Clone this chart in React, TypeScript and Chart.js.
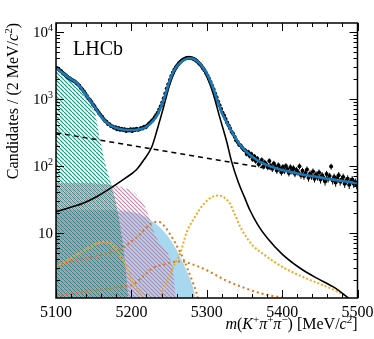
import React, { useEffect, useRef } from "react";
import { Chart, registerables } from "chart.js";

Chart.register(...registerables);

// ---------- data (2 MeV bins) ----------
const BIN_START = 5101;
const BIN_WIDTH = 2;
const DATA_COUNTS = [
  2870, 2790, 2650, 2560, 2430, 2310, 2250, 2130, 2060, 1990, 1920, 1850, 1800, 1720, 1640,
  1560, 1450, 1370, 1280, 1190, 1100, 1010, 960, 890, 820, 770, 700, 660, 610, 570,
  540, 500, 470, 455, 420, 415, 390, 385, 370, 375, 350, 365, 345, 355, 340, 350, 330, 345, 335, 350,
  330, 350, 340, 355, 345, 350, 365, 360, 380, 375, 400, 420, 440, 465, 490,
  530, 570, 620, 690, 770, 880, 1020, 1200, 1420, 1650, 1900, 2180, 2450, 2700, 2950,
  3150, 3380, 3550, 3720, 3850, 3950, 4050, 4080, 4100, 4060, 3980, 3900, 3780, 3620, 3450, 3280, 3080, 2850, 2650, 2420,
  2200, 1980, 1780, 1560, 1380, 1200, 1050, 910, 800, 700, 620, 560, 500, 440, 400,
  360, 320, 300, 270, 240, 225, 205, 200, 185, 175, 168, 150, 160, 140, 150,
  125, 138, 118, 128, 105, 115, 122, 98, 112, 104, 95, 118, 100, 90, 108, 96, 85, 102, 92, 80,
  96, 84, 99, 88, 78, 95, 83, 92, 76, 86, 80, 98, 72, 84, 70, 78, 88, 66, 76, 70, 82, 64, 74, 68, 79,
  62, 72, 66, 58, 75, 64, 70, 97, 60, 68, 56, 65, 72, 58, 62, 68, 54, 60, 64, 52, 58, 62, 54, 57, 52,
];

// ---------- fit components ----------
const TOTAL_X = [5100, 5110, 5120, 5128, 5136, 5145, 5155, 5163, 5172, 5181, 5190, 5198, 5207, 5216, 5222, 5229, 5235, 5240, 5245, 5250, 5255, 5260, 5265, 5270, 5277, 5284, 5290, 5295, 5300, 5305, 5310, 5315, 5320, 5326, 5335, 5344, 5350, 5357, 5365, 5372, 5380, 5397, 5415, 5432, 5450, 5468, 5485, 5500];
const TOTAL_Y = [2900, 2350, 1960, 1700, 1300, 950, 650, 490, 400, 362, 345, 340, 345, 362, 395, 470, 590, 790, 1150, 1750, 2450, 3000, 3450, 3800, 4020, 3850, 3400, 2900, 2380, 1800, 1300, 880, 620, 450, 300, 205, 172, 146, 125, 112, 102, 88, 79, 72, 67, 62, 58, 55];

const SIGNAL_X = [5100, 5120, 5136, 5155, 5172, 5190, 5207, 5216, 5227, 5235, 5243, 5251, 5258, 5265, 5272, 5278, 5285, 5290, 5296, 5303, 5309, 5317, 5326, 5333, 5342, 5350, 5357, 5368, 5380, 5400, 5424, 5446, 5468, 5486, 5495];
const SIGNAL_Y = [20.6, 24, 27.5, 35, 46, 63, 88, 120, 190, 370, 770, 1650, 2600, 3400, 3950, 4150, 3950, 3450, 2700, 1800, 1150, 540, 240, 115, 56, 34, 22, 13, 8.4, 4.8, 2.95, 2.1, 1.55, 1.1, 0.9];

const COMB_X = [5100, 5500];
const COMB_Y = [310, 54];

const PARTRECO_X = [5100, 5110, 5120, 5130, 5140, 5148, 5152, 5156, 5160, 5165, 5170, 5175, 5180, 5185, 5190, 5195, 5198];
const PARTRECO_Y = [2700, 2250, 1850, 1380, 1000, 730, 600, 330, 200, 110, 70, 45, 26, 13, 5.2, 1.4, 0.6];

const PINK_X = [5100, 5130, 5160, 5178, 5192, 5203, 5212, 5220, 5226, 5231, 5240, 5250, 5255, 5258, 5261];
const PINK_Y = [55, 55, 54, 51, 46, 40, 31, 22, 14, 9.5, 6.5, 4.5, 2.8, 1.3, 0.5];

const SKY_X = [5100, 5150, 5185, 5200, 5211, 5220, 5229, 5238, 5247, 5254, 5260, 5266, 5271, 5276, 5280, 5284, 5287];
const SKY_Y = [21.7, 21.7, 21.4, 20.5, 19, 17, 14.5, 12, 9.3, 7.2, 5.5, 4.1, 3.1, 2.3, 1.76, 1.17, 0.6];

const GOLD1_X = [5100, 5110, 5120, 5130, 5140, 5150, 5158, 5165, 5172, 5180, 5186, 5192, 5201, 5206, 5211, 5215, 5218];
const GOLD1_Y = [3.2, 3.6, 4.2, 4.9, 5.7, 6.5, 7.1, 7.3, 6.9, 5.6, 4.5, 3.4, 1.9, 1.55, 1.35, 1.05, 0.8];

const ORANGE1_X = [5100, 5125, 5150, 5170, 5185, 5200, 5211, 5220, 5228, 5236, 5244, 5250, 5256, 5262, 5268, 5275, 5282, 5287, 5290];
const ORANGE1_Y = [3.3, 3.8, 4.4, 5.0, 5.6, 7.4, 9.3, 12, 14, 14.6, 12.5, 10, 7.8, 5.8, 4.3, 2.8, 1.75, 1.2, 0.8];

const GOLD2_X = [5234, 5240, 5250, 5258, 5265, 5273, 5284, 5295, 5305, 5315, 5324, 5331, 5337, 5344, 5352, 5360, 5375, 5400, 5425, 5450, 5470, 5486, 5492];
const GOLD2_Y = [0.8, 1.2, 2.2, 3.5, 5.0, 9.9, 17, 26, 33, 36, 33, 27, 19, 12.5, 8.8, 6.6, 4.8, 3.1, 2.25, 1.72, 1.38, 1.08, 0.9];

const ORANGE2_X = [5100, 5125, 5150, 5170, 5185, 5203, 5215, 5228, 5245, 5260, 5267, 5280, 5300, 5325, 5350, 5370, 5385, 5401, 5410];
const ORANGE2_Y = [1.11, 1.25, 1.36, 1.48, 1.55, 1.7, 2.2, 2.95, 3.4, 3.7, 3.72, 3.4, 2.75, 1.95, 1.5, 1.26, 1.15, 1.05, 0.9];

// ---------- axes ----------
const X_MIN = 5100;
const X_MAX = 5500;
const Y_MIN = 1.06;
const Y_MAX = 13500;
const X_MAJOR_TICKS = [5100, 5200, 5300, 5400, 5500];
const X_MINOR_STEP = 20;
const Y_DECADES = [1, 10, 100, 1000, 10000];
const Y_LABEL_VALUES = [10, 100, 1000, 10000];
const Y_LABEL_EXPONENTS = ["", "2", "3", "4"];

type Part = { t: string; it?: boolean; sup?: boolean };
const X_TITLE: Part[] = [
  { t: "m", it: true }, { t: "(" }, { t: "K", it: true }, { t: "+", sup: true },
  { t: "π", it: true }, { t: "+", sup: true }, { t: "π", it: true }, { t: "−", sup: true },
  { t: ") [MeV/" }, { t: "c", it: true }, { t: "2", sup: true }, { t: "]" },
];
const Y_TITLE: Part[] = [
  { t: "Candidates / (2 MeV/" }, { t: "c", it: true }, { t: "2", sup: true }, { t: ")" },
];
const EXPERIMENT_LABEL = "LHCb";

const FONT = '"Liberation Serif", "Times New Roman", serif';

function pts(xs: number[], ys: number[]) {
  return xs.map((x, i) => ({ x, y: ys[i] }));
}

function hatch(color: string, p: number, lw: number, off = 0) {
  const c = document.createElement("canvas");
  c.width = p;
  c.height = p;
  const g = c.getContext("2d")!;
  g.strokeStyle = color;
  g.lineWidth = lw;
  g.beginPath();
  for (let k = -2; k <= 2; k++) {
    g.moveTo(k * p + off, 0);
    g.lineTo(k * p + off + p, p);
  }
  g.stroke();
  return g.createPattern(c, "repeat")!;
}

function partFont(p: Part, size: number) {
  const s = p.sup ? Math.round(size * 0.68) : size;
  return `${p.it ? "italic " : ""}${s}px ${FONT}`;
}

function drawRich(ctx: CanvasRenderingContext2D, parts: Part[], x: number, y: number, size: number, align: "left" | "right" | "center") {
  let w = 0;
  for (const p of parts) {
    ctx.font = partFont(p, size);
    w += ctx.measureText(p.t).width;
  }
  let cx = align === "right" ? x - w : align === "center" ? x - w / 2 : x;
  ctx.textAlign = "left";
  ctx.textBaseline = "alphabetic";
  for (const p of parts) {
    ctx.font = partFont(p, size);
    ctx.fillText(p.t, cx, p.sup ? y - size * 0.4 : y);
    cx += ctx.measureText(p.t).width;
  }
}

const decorPlugin = {
  id: "decor",
  beforeDatasetDraw(chart: any, args: any) {
    if (chart.data.datasets[args.index].label !== "Data") return;
    const ctx: CanvasRenderingContext2D = chart.ctx;
    const xs = chart.scales.x;
    const ys = chart.scales.y;
    const a = chart.chartArea;
    ctx.save();
    ctx.beginPath();
    ctx.rect(a.left, a.top, a.right - a.left, a.bottom - a.top);
    ctx.clip();
    ctx.strokeStyle = "#000";
    ctx.lineWidth = 1;
    ctx.beginPath();
    DATA_COUNTS.forEach((v, i) => {
      const x = xs.getPixelForValue(BIN_START + i * BIN_WIDTH);
      const e = Math.sqrt(v);
      ctx.moveTo(x, ys.getPixelForValue(v + e));
      ctx.lineTo(x, ys.getPixelForValue(Math.max(v - e, 0.3)));
    });
    ctx.stroke();
    ctx.restore();
  },
  afterDraw(chart: any) {
    const ctx: CanvasRenderingContext2D = chart.ctx;
    const xs = chart.scales.x;
    const ys = chart.scales.y;
    const a = chart.chartArea;
    ctx.save();
    ctx.strokeStyle = "#000";
    ctx.fillStyle = "#000";
    // frame
    ctx.lineWidth = 1.5;
    ctx.strokeRect(a.left, a.top, a.right - a.left, a.bottom - a.top);
    // x ticks
    ctx.lineWidth = 1;
    ctx.beginPath();
    for (let v = X_MIN; v <= X_MAX; v += X_MINOR_STEP) {
      const x = Math.round(xs.getPixelForValue(v)) + 0.5;
      const len = X_MAJOR_TICKS.includes(v) ? 8 : 4;
      ctx.moveTo(x, a.bottom);
      ctx.lineTo(x, a.bottom - len);
      ctx.moveTo(x, a.top);
      ctx.lineTo(x, a.top + len);
    }
    // y ticks
    for (const d of Y_DECADES) {
      for (let m = 1; m <= 9; m++) {
        const v = d * m;
        if (v < Y_MIN || v > Y_MAX) continue;
        const y = Math.round(ys.getPixelForValue(v)) + 0.5;
        const len = m === 1 ? 8 : 4;
        ctx.moveTo(a.left, y);
        ctx.lineTo(a.left + len, y);
        ctx.moveTo(a.right, y);
        ctx.lineTo(a.right - len, y);
      }
    }
    ctx.stroke();
    // x labels
    ctx.font = `16px ${FONT}`;
    ctx.textAlign = "center";
    ctx.textBaseline = "alphabetic";
    for (const v of X_MAJOR_TICKS) {
      ctx.fillText(String(v), xs.getPixelForValue(v), a.bottom + 19);
    }
    // y labels
    Y_LABEL_VALUES.forEach((v, i) => {
      const y = ys.getPixelForValue(v);
      const exp = Y_LABEL_EXPONENTS[i];
      const parts: Part[] = exp ? [{ t: "10" }, { t: exp, sup: true }] : [{ t: "10" }];
      drawRich(ctx, parts, a.left - 3, y + 5, 15, "right");
    });
    // x title
    drawRich(ctx, X_TITLE, a.right, 329, 16, "right");
    // y title
    ctx.save();
    ctx.translate(18, a.top);
    ctx.rotate(-Math.PI / 2);
    drawRich(ctx, Y_TITLE, 0, 0, 16, "right");
    ctx.restore();
    // LHCb
    ctx.font = `20px ${FONT}`;
    ctx.textAlign = "left";
    ctx.fillText(EXPERIMENT_LABEL, 73, 55);
    ctx.restore();
  },
};

export default function App() {
  const ref = useRef<HTMLCanvasElement>(null);
  useEffect(() => {
    document.body.style.margin = "0";
    const green = hatch("rgba(0,150,120,0.95)", 4, 1.2);
    const pink = hatch("rgba(190,120,160,0.9)", 4, 1.1, 2);
    const curve = (label: string, xs: number[], ys: number[], extra: any) => ({
      label,
      data: pts(xs, ys),
      pointRadius: 0,
      cubicInterpolationMode: "monotone",
      fill: false,
      ...extra,
    });
    const chart = new Chart(ref.current!, {
      type: "line",
      data: {
        datasets: [
          curve("Total", TOTAL_X, TOTAL_Y, { borderColor: "#1b78b6", borderWidth: 2.6, order: 0 }),
          {
            label: "Data",
            data: DATA_COUNTS.map((v, i) => ({ x: BIN_START + i * BIN_WIDTH, y: v })),
            showLine: false,
            pointRadius: 2,
            pointBackgroundColor: "#000",
            pointBorderWidth: 0,
            order: 1,
          },
          curve("Combinatorial", COMB_X, COMB_Y, { borderColor: "#000", borderWidth: 1.5, borderDash: [5, 4], order: 2 }),
          curve("Signal", SIGNAL_X, SIGNAL_Y, { borderColor: "#000", borderWidth: 1.6, order: 3 }),
          curve("Gold1", GOLD1_X, GOLD1_Y, { borderColor: "#f2a91c", borderWidth: 2, borderDash: [2, 2], order: 4 }),
          curve("Orange1", ORANGE1_X, ORANGE1_Y, { borderColor: "#e0761a", borderWidth: 2, borderDash: [2, 3], order: 5 }),
          curve("Gold2", GOLD2_X, GOLD2_Y, { borderColor: "#f2a91c", borderWidth: 2, borderDash: [2, 2], order: 6 }),
          curve("Orange2", ORANGE2_X, ORANGE2_Y, { borderColor: "#e0761a", borderWidth: 2, borderDash: [2, 3], order: 7 }),
          curve("PartReco", PARTRECO_X, PARTRECO_Y, { borderColor: "rgba(0,0,0,0)", borderWidth: 0, backgroundColor: green, fill: "start", order: 8 }),
          curve("Pink", PINK_X, PINK_Y, { borderColor: "rgba(0,0,0,0)", borderWidth: 0, backgroundColor: pink, fill: "start", order: 9 }),
          curve("Sky", SKY_X, SKY_Y, { borderColor: "rgba(0,0,0,0)", borderWidth: 0, backgroundColor: "#a8d8f0", fill: "start", order: 10 }),
        ],
      },
      options: {
        animation: false,
        responsive: false,
        maintainAspectRatio: false,
        layout: { padding: { top: 23, right: 16.5, left: 0, bottom: 0 } },
        plugins: { legend: { display: false }, tooltip: { enabled: false } },
        scales: {
          x: {
            type: "linear",
            min: X_MIN,
            max: X_MAX,
            afterFit: (s: any) => { s.height = 41; },
            ticks: { display: false },
            grid: { display: false, drawTicks: false },
            border: { display: false },
          },
          y: {
            type: "logarithmic",
            min: Y_MIN,
            max: Y_MAX,
            afterFit: (s: any) => { s.width = 56; },
            ticks: { display: false },
            grid: { display: false, drawTicks: false },
            border: { display: false },
          },
        },
      } as any,
      plugins: [decorPlugin],
    } as any);
    return () => chart.destroy();
  }, []);
  return (
    <div style={{ width: 374, height: 339 }}>
      <canvas ref={ref} width={374} height={339} style={{ display: "block" }} />
    </div>
  );
}
